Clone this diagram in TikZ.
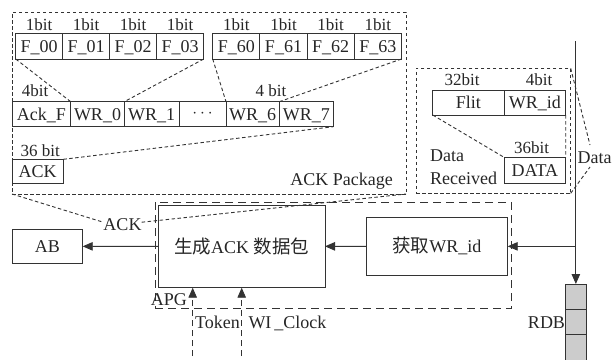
\documentclass[tikz,border=0pt]{standalone}
\usepackage{fontspec}
\setmainfont{Liberation Serif}
\newfontfamily\cjk{Noto Sans CJK SC}
\usetikzlibrary{arrows.meta}
\newcommand\mytxt{\fontsize{18}{21}\selectfont}
\newcommand\mybit{\fontsize{17}{20}\selectfont}
\newcommand\mycjk{\cjk\fontsize{18.5}{21}\selectfont}
\tikzset{
  ln/.style={line width=0.9pt, draw=black!80},
  cell/.style={ln, rectangle, inner sep=0pt, outer sep=0pt, font=\mytxt, text=black!85,
    anchor=west, minimum height=25pt, text height=12.5pt, text depth=0pt},
  fcell/.style={cell, minimum width=47pt, minimum height=26pt},
  gcell/.style={cell, minimum width=47.2pt, minimum height=26pt},
  bitlbl/.style={inner sep=0pt, font=\mybit, text=black!85, anchor=base},
  lbl/.style={inner sep=0pt, font=\mytxt, text=black!85},
  box/.style={ln, rectangle, inner sep=0pt, outer sep=0pt, font=\mytxt, text=black!85},
  sdash/.style={ln, dash pattern=on 3.5pt off 2.5pt},
  ldash/.style={ln, dash pattern=on 8pt off 5pt},
  mdash/.style={ln, dash pattern=on 6pt off 4pt},
  frame/.style={rectangle, inner sep=0pt, outer sep=0pt, anchor=north west},
  tip/.style={-{Triangle[length=10pt,width=8.5pt]}},
  rdbcell/.style={ln, fill=black!20, rectangle, inner sep=0pt, outer sep=0pt,
    minimum width=20.3pt, minimum height=25pt, anchor=north},
}
\begin{document}
\begin{tikzpicture}[x=1pt,y=-1pt]
\useasboundingbox (0,0) rectangle (613,359);

% ---------- ACK package ----------
\node[sdash, frame, minimum width=394pt, minimum height=182pt] (pkg) at (12,12) {};

\node[fcell] (f00) at (15.7,46) {F\_00};
\node[fcell] (f01) at (f00.east) {F\_01};
\node[fcell] (f02) at (f01.east) {F\_02};
\node[fcell] (f03) at (f02.east) {F\_03};
\node[gcell] (f60) at (212.7,46) {F\_60};
\node[gcell] (f61) at (f60.east) {F\_61};
\node[gcell] (f62) at (f61.east) {F\_62};
\node[gcell] (f63) at (f62.east) {F\_63};
\foreach \c in {f00,f01,f02,f03,f60,f61,f62,f63}
  \node[bitlbl] (b\c) at ([yshift=2.5pt]\c.north) {1bit};

\node[cell, minimum width=58.7pt] (ackf) at (12,114.2) {Ack\_F};
\node[cell, minimum width=53.6pt] (wr0) at (ackf.east) {WR\_0};
\node[cell, minimum width=54.7pt] (wr1) at (wr0.east) {WR\_1};
\node[cell, minimum width=47pt, text height=6pt] (dots) at (wr1.east) {$\cdots$};
\node[cell, minimum width=53.3pt] (wr6) at (dots.east) {WR\_6};
\node[cell, minimum width=54pt] (wr7) at (wr6.east) {WR\_7};
\node[bitlbl] (b4a) at (35,96.7) {4bit};
\node[bitlbl] (b4b) at (271,96.7) {4 bit};

\node[cell, minimum width=51.3pt, minimum height=24pt] (ack) at (12,171.3) {ACK};
\node[bitlbl] (b36a) at (40.3,156) {36 bit};

\draw[sdash] (f00.south west) -- (wr0.north west);
\draw[sdash] (f03.south east) -- (wr0.north east);
\draw[sdash] (f60.south west) -- (wr6.north west);
\draw[sdash] (f63.south east) -- (wr6.north east);
\draw[sdash] (ack.north east) -- (wr7.south east);

\node[lbl, anchor=base east] (pkglbl) at (393,185) {ACK Package};

% ---------- Data received ----------
\node[sdash, frame, minimum width=154.7pt, minimum height=125pt] (rbox) at (416,68.3) {};
\node[cell, minimum width=71.3pt] (flit) at (432.7,102.5) {Flit};
\node[cell, minimum width=61.7pt] (wrid) at (flit.east) {WR\_id};
\node[cell, minimum width=61.7pt, minimum height=26pt, anchor=north west] (data) at (504,157.3) {DATA};
\node[bitlbl] (b32) at (462,85) {32bit};
\node[bitlbl] (b4c) at (539,85) {4bit};
\node[bitlbl] (b36b) at (531.7,153.3) {36bit};
\draw[sdash] (flit.south west) -- (data.north west);
\draw[sdash] (wrid.south east) -- (data.north east);
\node[lbl, anchor=base west] (drec1) at (430,161.7) {Data};
\node[lbl, anchor=base west] (drec2) at (430,184) {Received};

\node[lbl, anchor=base west] (datalbl) at (577.5,163.3) {Data};
\coordinate (dlt) at (590,145);
\coordinate (dlb) at (590,167);
\draw[sdash] (rbox.north east) -- (dlt);
\draw[sdash] (rbox.south east) -- (dlb);

% ---------- ACK funnel ----------
\node[lbl, anchor=base] (acklbl) at (122.5,230.3) {ACK};
\draw[sdash] (pkg.south west) -- ([yshift=2.2pt]acklbl.west);
\draw[sdash] ([yshift=2.2pt]acklbl.east) -- (pkg.south east);

% ---------- APG ----------
\node[ldash, frame, minimum width=356.7pt, minimum height=105.7pt] (apg) at (155,202.3) {};
\node[box, minimum width=166.7pt, minimum height=82.7pt, anchor=north west] (gen) at (158.3,205)
  {{\mycjk 生成}ACK {\mycjk 数据包}};
\node[box, minimum width=141.7pt, minimum height=57.3pt] (get) at (436.85,246.35)
  {{\mycjk 获取}WR\_id};
\node[box, minimum width=70.4pt, minimum height=33.4pt] (ab) at (47.5,246.35) {AB};
\node[lbl, anchor=base east] (apglbl) at (187,305) {APG};

\draw[ln, tip] (gen.west) -- (ab.east);
\draw[ln, tip] (get.west) -- (gen.east);

% ---------- data line and RDB ----------
\coordinate (dtop) at (575.85,41);
\coordinate (djoin) at (575.85,246.35);
\node[rdbcell] (rdb1) at (575.85,284) {};
\node[rdbcell] (rdb2) at (rdb1.south) {};
\node[rdbcell, minimum height=32pt] (rdb3) at (rdb2.south) {};
\draw[ln, tip] (dtop) -- (rdb1.north);
\draw[ln, tip] (djoin) -- (get.east);
\node[lbl, anchor=east, inner sep=0.5pt] (rdblbl) at ([yshift=-1pt]rdb2.west) {RDB};

% ---------- Token / WI_Clock ----------
\coordinate (tokb) at (192.7,366);
\coordinate (wib) at (241.7,366);
\draw[mdash, tip] (tokb) -- (tokb |- gen.south);
\draw[mdash, tip] (wib) -- (wib |- gen.south);
\node[lbl, anchor=base west] (toklbl) at (195,328.3) {Token};
\node[lbl, anchor=base west] (wilbl) at (248.3,328.3) {WI\,\_Clock};
\end{tikzpicture}
\end{document}
